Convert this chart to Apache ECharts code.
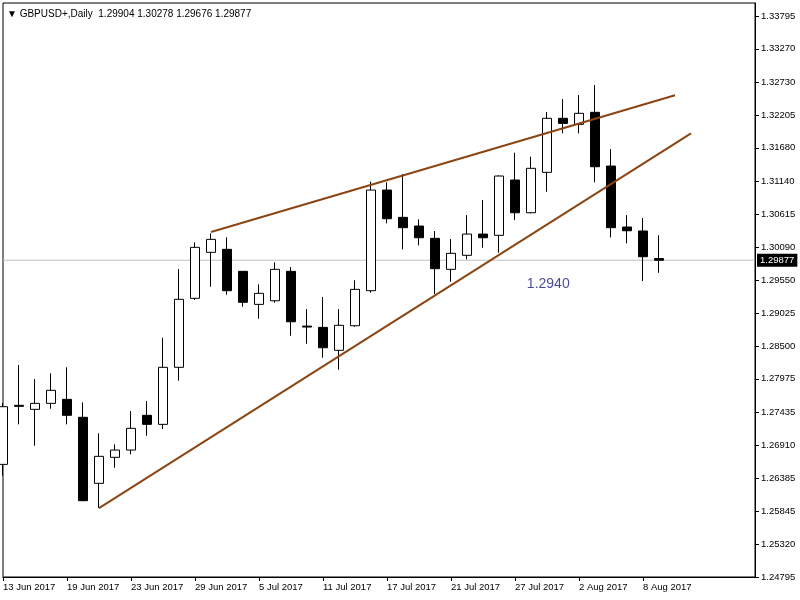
<!DOCTYPE html>
<html><head><meta charset="utf-8">
<script src="https://cdn.jsdelivr.net/npm/echarts@6/dist/echarts.min.js"></script>
<style>html,body{margin:0;padding:0;background:#fff}#c{width:800px;height:600px}</style>
</head><body><div id="c"></div>
<script>
const dates = ['13 Jun','14 Jun','15 Jun','16 Jun','19 Jun','20 Jun','21 Jun','22 Jun','23 Jun','26 Jun',
  '27 Jun','28 Jun','29 Jun','30 Jun','3 Jul','4 Jul','5 Jul','6 Jul','7 Jul','10 Jul',
  '11 Jul','12 Jul','13 Jul','14 Jul','17 Jul','18 Jul','19 Jul','20 Jul','21 Jul','24 Jul',
  '25 Jul','26 Jul','27 Jul','28 Jul','31 Jul','1 Aug','2 Aug','3 Aug','4 Aug','7 Aug',
  '8 Aug','9 Aug'];
const openP  = [1.26602,1.27549,1.27485,1.27581,1.27645,1.27357,1.26298,1.26715,1.26832,1.27389,
  1.27244,1.28159,1.29266,1.30004,1.30052,1.29699,1.29169,1.29227,1.29699,1.28820,
  1.28800,1.28432,1.28826,1.29388,1.31003,1.30565,1.30426,1.30228,1.29731,1.29956,
  1.30297,1.30277,1.31164,1.30639,1.31287,1.32154,1.32057,1.32250,1.31388,1.30410,
  1.30346,1.29904];
const highP  = [1.27586,1.28196,1.27971,1.28062,1.28159,1.27597,1.27100,1.26923,1.27458,1.27618,
  1.28634,1.29736,1.30164,1.30309,1.30244,1.29704,1.29490,1.29843,1.29768,1.29094,
  1.29287,1.29094,1.29555,1.31137,1.31127,1.31260,1.30533,1.30346,1.30217,1.30602,
  1.30843,1.31239,1.31602,1.31538,1.32255,1.32463,1.32528,1.32688,1.31661,1.30602,
  1.30554,1.30278];
const lowP   = [1.26420,1.27244,1.26901,1.27495,1.27244,1.26015,1.25901,1.26548,1.26763,1.27061,
  1.27169,1.27944,1.29239,1.29452,1.29324,1.29131,1.28939,1.29195,1.28666,1.28537,
  1.28313,1.28120,1.28810,1.29356,1.30469,1.30052,1.30116,1.29335,1.29532,1.29892,
  1.30078,1.29997,1.30522,1.30629,1.30976,1.31913,1.31913,1.31127,1.30244,1.30148,
  1.29543,1.29676];
const closeP = [1.27527,1.27533,1.27581,1.27790,1.27389,1.26019,1.26731,1.26832,1.27180,1.27244,
  1.28159,1.29250,1.30084,1.30212,1.29388,1.29202,1.29346,1.29731,1.28890,1.28805,
  1.28473,1.28833,1.29410,1.31003,1.30543,1.30399,1.30238,1.29741,1.29988,1.30297,
  1.30238,1.31228,1.30639,1.31352,1.32154,1.32073,1.32234,1.31377,1.30399,1.30350,
  1.29933,1.29877];
const xTickLabels = ['13 Jun 2017','19 Jun 2017','23 Jun 2017','29 Jun 2017','5 Jul 2017','11 Jul 2017',
  '17 Jul 2017','21 Jul 2017','27 Jul 2017','2 Aug 2017','8 Aug 2017'];
const yTickValues = [1.24795,1.25320,1.25845,1.26385,1.26910,1.27435,1.27975,1.28500,1.29025,
  1.29550,1.30090,1.30615,1.31140,1.31680,1.32205,1.32730,1.33270,1.33795];
const bidPrice = 1.29877;
const titleText = 'GBPUSD+,Daily  1.29904 1.30278 1.29676 1.29877';
const upperTrend = [[13, 1.30330], [42, 1.32523]];
const lowerTrend = [[6, 1.25901], [43, 1.31913]];
const noteText = '1.2940';
const notePoint = [34.08, 1.2949];

const FONT = "'Liberation Sans', Arial, sans-serif";
const candles = dates.map((d, i) => [i, openP[i], closeP[i], lowP[i], highP[i]]);
const trendColor = '#8B4513';

const chart = echarts.init(document.getElementById('c'), null, {renderer: 'canvas'});
chart.setOption({
  animation: false,
  backgroundColor: '#fff',
  title: {
    text: '▼ ' + titleText, left: 2, top: 4,
    textStyle: {fontFamily: FONT, fontSize: 10, fontWeight: 'normal', color: '#000'}
  },
  grid: {left: 3, right: 45, top: 3, bottom: 23, show: true, borderColor: '#000', borderWidth: 1, backgroundColor: '#fff'},
  xAxis: {
    type: 'value', min: 0, max: 47, position: 'bottom',
    splitLine: {show: false},
    axisLine: {show: true, onZero: false, lineStyle: {color: '#000', width: 1}},
    axisTick: {show: true, length: 4, inside: false, customValues: xTickLabels.map((_, i) => i * 4), lineStyle: {color: '#000'}},
    axisLabel: {
      customValues: xTickLabels.map((_, i) => i * 4),
      formatter: v => xTickLabels[Math.round(v / 4)] || '',
      align: 'left', margin: 5, color: '#000', fontFamily: FONT, fontSize: 9.5
    }
  },
  yAxis: {
    type: 'value', position: 'right', min: 1.24795, max: 1.34004, scale: true,
    splitLine: {show: false},
    axisLine: {show: true, onZero: false, lineStyle: {color: '#000', width: 1}},
    axisTick: {show: true, length: 4, inside: false, customValues: yTickValues, lineStyle: {color: '#000'}},
    axisLabel: {
      customValues: yTickValues, formatter: v => v.toFixed(5),
      margin: 6, color: '#000', fontFamily: FONT, fontSize: 9.5
    }
  },
  series: [
    {
      type: 'line', data: [[0, bidPrice], [47, bidPrice]], symbol: 'none', silent: true, z: 1,
      lineStyle: {color: '#c0c0c0', width: 1},
      endLabel: {
        show: true, formatter: bidPrice.toFixed(5), distance: 2,
        backgroundColor: '#000', color: '#fff', padding: [2, 3, 1, 3],
        fontFamily: FONT, fontSize: 9.5
      }
    },
    {
      type: 'candlestick', data: candles, barWidth: 10, clip: true,
      itemStyle: {color: '#fff', color0: '#000', borderColor: '#000', borderColor0: '#000', borderWidth: 1},
      z: 3
    },
    {type: 'line', data: upperTrend, symbol: 'none', lineStyle: {color: trendColor, width: 2}, silent: true, z: 4},
    {type: 'line', data: lowerTrend, symbol: 'none', lineStyle: {color: trendColor, width: 2}, silent: true, z: 4},
    {
      type: 'scatter', data: [notePoint], symbolSize: 0, silent: true,
      label: {show: true, position: 'inside', formatter: noteText, color: '#1a1a80', fontFamily: FONT, fontSize: 14}
    }
  ]
});
</script></body></html>
